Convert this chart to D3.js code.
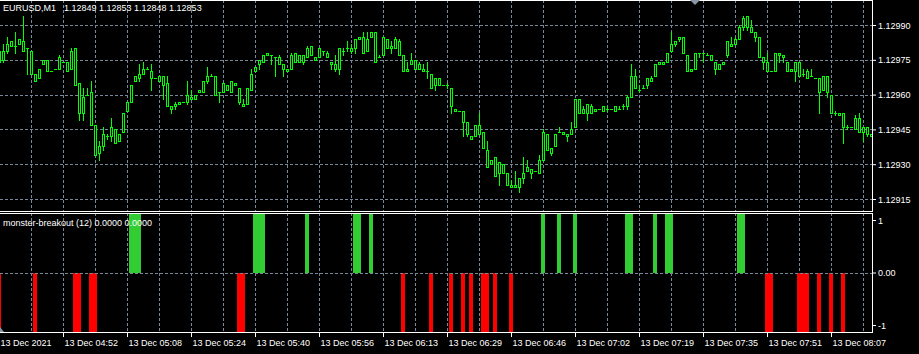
<!DOCTYPE html>
<html><head><meta charset="utf-8">
<script src="https://cdn.jsdelivr.net/npm/d3@7/dist/d3.min.js"></script>
<style>
html,body{margin:0;padding:0;background:#000;overflow:hidden}
svg{display:block}
text{font-family:"Liberation Sans",Arial,sans-serif;font-size:9px;fill:#fff}
</style></head><body>
<svg id="c" width="919" height="354"></svg>
<script>
// ---- data (EURUSD M1, 219 bars) ----
const opens=[1.12974,1.12975,1.12979,1.12981,1.12981,1.12982,1.12983,1.12980,1.12979,1.12969,1.12967,1.12973,1.12975,1.12970,1.12971,1.12971,1.12974,1.12974,1.12971,1.12980,
1.12965,1.12952,1.12960,1.12961,1.12947,1.12935,1.12938,1.12942,1.12942,1.12945,1.12940,1.12944,1.12953,1.12957,1.12966,1.12967,1.12969,1.12971,1.12970,1.12967,
1.12966,1.12968,1.12965,1.12955,1.12955,1.12956,1.12957,1.12957,1.12959,1.12958,1.12961,1.12961,1.12966,1.12968,1.12968,1.12961,1.12961,1.12964,1.12961,1.12965,
1.12963,1.12956,1.12956,1.12962,1.12970,1.12973,1.12974,1.12977,1.12977,1.12976,1.12976,1.12973,1.12971,1.12971,1.12974,1.12977,1.12974,1.12976,1.12981,1.12976,
1.12976,1.12979,1.12978,1.12974,1.12973,1.12971,1.12979,1.12980,1.12980,1.12980,1.12984,1.12985,1.12979,1.12985,1.12987,1.12976,1.12977,1.12984,1.12980,1.12980,
1.12983,1.12977,1.12970,1.12973,1.12975,1.12971,1.12971,1.12970,1.12969,1.12964,1.12967,1.12964,1.12964,1.12963,1.12954,1.12953,1.12953,1.12948,1.12942,1.12942,
1.12947,1.12944,1.12936,1.12930,1.12933,1.12926,1.12930,1.12926,1.12920,1.12921,1.12920,1.12924,1.12927,1.12928,1.12927,1.12926,1.12932,1.12943,1.12937,1.12938,
1.12944,1.12944,1.12943,1.12943,1.12946,1.12958,1.12952,1.12952,1.12955,1.12953,1.12954,1.12955,1.12954,1.12954,1.12953,1.12954,1.12955,1.12955,1.12959,1.12968,
1.12962,1.12963,1.12964,1.12966,1.12968,1.12973,1.12974,1.12974,1.12979,1.12982,1.12984,1.12985,1.12977,1.12970,1.12971,1.12978,1.12978,1.12977,1.12977,1.12974,
1.12971,1.12973,1.12977,1.12982,1.12982,1.12984,1.12989,1.12994,1.12989,1.12987,1.12985,1.12976,1.12974,1.12970,1.12970,1.12978,1.12977,1.12974,1.12970,1.12970,
1.12974,1.12969,1.12970,1.12968,1.12967,1.12967,1.12962,1.12968,1.12960,1.12952,1.12952,1.12952,1.12946,1.12946,1.12945,1.12950,1.12944,1.12946,1.12943];
const highs=[1.12982,1.12982,1.12985,1.12983,1.12987,1.12984,1.12994,1.12980,1.12979,1.12969,1.12971,1.12975,1.12975,1.12970,1.12971,1.12977,1.12974,1.12974,1.12980,1.12980,
1.12965,1.12963,1.12963,1.12966,1.12947,1.12940,1.12946,1.12943,1.12950,1.12945,1.12943,1.12952,1.12957,1.12964,1.12968,1.12973,1.12974,1.12972,1.12973,1.12967,
1.12968,1.12968,1.12968,1.12955,1.12957,1.12957,1.12957,1.12966,1.12962,1.12960,1.12962,1.12966,1.12972,1.12969,1.12968,1.12961,1.12965,1.12964,1.12966,1.12965,
1.12963,1.12958,1.12963,1.12971,1.12972,1.12975,1.12977,1.12978,1.12977,1.12976,1.12977,1.12973,1.12971,1.12978,1.12978,1.12977,1.12977,1.12981,1.12981,1.12976,
1.12980,1.12979,1.12979,1.12974,1.12977,1.12980,1.12980,1.12983,1.12982,1.12984,1.12985,1.12987,1.12987,1.12987,1.12987,1.12977,1.12985,1.12984,1.12983,1.12985,
1.12984,1.12977,1.12974,1.12978,1.12975,1.12974,1.12973,1.12974,1.12969,1.12967,1.12967,1.12964,1.12965,1.12963,1.12954,1.12953,1.12953,1.12948,1.12942,1.12947,
1.12952,1.12944,1.12940,1.12932,1.12933,1.12931,1.12930,1.12926,1.12923,1.12927,1.12924,1.12933,1.12932,1.12928,1.12927,1.12934,1.12945,1.12943,1.12937,1.12943,
1.12946,1.12944,1.12943,1.12948,1.12958,1.12958,1.12955,1.12956,1.12956,1.12954,1.12954,1.12955,1.12955,1.12954,1.12955,1.12955,1.12956,1.12960,1.12973,1.12971,
1.12964,1.12964,1.12967,1.12968,1.12973,1.12974,1.12974,1.12978,1.12987,1.12983,1.12985,1.12985,1.12977,1.12971,1.12978,1.12978,1.12978,1.12978,1.12977,1.12974,
1.12973,1.12974,1.12983,1.12985,1.12985,1.12990,1.12994,1.12994,1.12992,1.12987,1.12985,1.12976,1.12978,1.12970,1.12978,1.12978,1.12977,1.12974,1.12971,1.12974,
1.12974,1.12971,1.12971,1.12971,1.12967,1.12967,1.12968,1.12968,1.12960,1.12953,1.12952,1.12952,1.12947,1.12946,1.12951,1.12952,1.12946,1.12946,1.12943];
const lows=[1.12971,1.12974,1.12978,1.12981,1.12978,1.12982,1.12979,1.12969,1.12969,1.12966,1.12967,1.12973,1.12970,1.12970,1.12971,1.12971,1.12974,1.12970,1.12971,1.12964,
1.12949,1.12949,1.12960,1.12947,1.12934,1.12932,1.12936,1.12941,1.12940,1.12939,1.12940,1.12944,1.12953,1.12957,1.12966,1.12966,1.12969,1.12971,1.12962,1.12967,
1.12966,1.12958,1.12955,1.12952,1.12954,1.12956,1.12957,1.12956,1.12958,1.12958,1.12961,1.12961,1.12965,1.12968,1.12960,1.12957,1.12961,1.12962,1.12961,1.12964,
1.12956,1.12955,1.12956,1.12962,1.12970,1.12971,1.12974,1.12977,1.12973,1.12968,1.12973,1.12968,1.12970,1.12971,1.12974,1.12974,1.12973,1.12976,1.12977,1.12975,
1.12976,1.12977,1.12976,1.12971,1.12970,1.12969,1.12977,1.12979,1.12978,1.12978,1.12984,1.12978,1.12979,1.12985,1.12974,1.12976,1.12977,1.12980,1.12978,1.12980,
1.12977,1.12970,1.12970,1.12973,1.12971,1.12971,1.12970,1.12967,1.12963,1.12962,1.12964,1.12964,1.12963,1.12952,1.12953,1.12953,1.12942,1.12942,1.12941,1.12942,
1.12943,1.12937,1.12929,1.12930,1.12925,1.12921,1.12926,1.12921,1.12920,1.12920,1.12918,1.12922,1.12927,1.12924,1.12927,1.12926,1.12932,1.12936,1.12934,1.12938,
1.12944,1.12943,1.12940,1.12943,1.12946,1.12952,1.12952,1.12949,1.12952,1.12953,1.12954,1.12953,1.12953,1.12954,1.12953,1.12954,1.12954,1.12954,1.12959,1.12963,
1.12961,1.12963,1.12963,1.12966,1.12968,1.12973,1.12973,1.12974,1.12979,1.12981,1.12983,1.12978,1.12970,1.12970,1.12971,1.12976,1.12974,1.12977,1.12975,1.12969,
1.12971,1.12973,1.12976,1.12981,1.12982,1.12984,1.12988,1.12988,1.12987,1.12983,1.12976,1.12971,1.12970,1.12970,1.12970,1.12974,1.12974,1.12970,1.12970,1.12966,
1.12968,1.12968,1.12967,1.12968,1.12967,1.12952,1.12962,1.12959,1.12952,1.12951,1.12951,1.12939,1.12945,1.12946,1.12945,1.12944,1.12940,1.12942,1.12942];
const closes=[1.12979,1.12979,1.12982,1.12983,1.12981,1.12984,1.12979,1.12980,1.12969,1.12966,1.12971,1.12975,1.12970,1.12970,1.12971,1.12976,1.12974,1.12970,1.12979,1.12964,
1.12952,1.12959,1.12960,1.12947,1.12934,1.12938,1.12943,1.12942,1.12946,1.12939,1.12943,1.12952,1.12957,1.12964,1.12968,1.12969,1.12971,1.12971,1.12967,1.12967,
1.12968,1.12964,1.12955,1.12954,1.12956,1.12957,1.12957,1.12960,1.12958,1.12960,1.12962,1.12966,1.12968,1.12968,1.12960,1.12961,1.12965,1.12962,1.12966,1.12964,
1.12957,1.12955,1.12963,1.12969,1.12972,1.12975,1.12977,1.12978,1.12977,1.12976,1.12973,1.12971,1.12970,1.12977,1.12978,1.12974,1.12977,1.12980,1.12977,1.12975,
1.12980,1.12979,1.12976,1.12973,1.12971,1.12980,1.12979,1.12980,1.12979,1.12984,1.12985,1.12978,1.12984,1.12987,1.12974,1.12976,1.12985,1.12980,1.12981,1.12984,
1.12977,1.12970,1.12971,1.12975,1.12971,1.12973,1.12970,1.12970,1.12963,1.12967,1.12964,1.12964,1.12964,1.12955,1.12953,1.12953,1.12948,1.12943,1.12941,1.12947,
1.12943,1.12937,1.12929,1.12932,1.12925,1.12931,1.12926,1.12921,1.12921,1.12920,1.12924,1.12926,1.12929,1.12926,1.12927,1.12932,1.12944,1.12936,1.12935,1.12943,
1.12944,1.12943,1.12942,1.12945,1.12958,1.12952,1.12954,1.12956,1.12952,1.12954,1.12954,1.12953,1.12954,1.12954,1.12955,1.12954,1.12955,1.12959,1.12968,1.12963,
1.12962,1.12963,1.12967,1.12967,1.12973,1.12974,1.12973,1.12978,1.12982,1.12983,1.12985,1.12978,1.12970,1.12971,1.12978,1.12978,1.12978,1.12977,1.12975,1.12971,
1.12973,1.12974,1.12983,1.12981,1.12984,1.12989,1.12993,1.12989,1.12987,1.12985,1.12976,1.12974,1.12970,1.12970,1.12978,1.12977,1.12976,1.12970,1.12971,1.12974,
1.12968,1.12969,1.12967,1.12968,1.12967,1.12961,1.12968,1.12961,1.12952,1.12952,1.12951,1.12946,1.12946,1.12946,1.12950,1.12944,1.12946,1.12943,1.12942];

// indicator: bars where the buffers are +1 (breakout up) and -1 (breakout down)
const upBars=[33,34,35,64,65,66,77,89,90,93,136,140,144,157,158,164,167,168,185,186];
const downBars=[0,9,19,20,23,24,60,61,101,108,113,116,118,121,122,124,128,192,193,200,201,202,205,208,211];

const priceTicks=[1.12915,1.12930,1.12945,1.12960,1.12975,1.12990];
const indTicks=[1,0,-1];
const indTickLabels=["1","0.00","-1"];
const timeTickBars=[0,16,32,48,64,80,96,112,128,144,160,176,192,208];
const timeTickLabels=["13 Dec 2021","13 Dec 04:52","13 Dec 05:08","13 Dec 05:24","13 Dec 05:40","13 Dec 05:56","13 Dec 06:13","13 Dec 06:29","13 Dec 06:46","13 Dec 07:02","13 Dec 07:19","13 Dec 07:35","13 Dec 07:51","13 Dec 08:07"];
const symbolTitle="EURUSD,M1";
const titleValues="1.12849 1.12853 1.12848 1.12853";
const indTitle="monster-breakout (12) 0.0000 0.0000";

// ---- layout ----
const plotRight=872, mainTop=0, mainBottom=211, indTop=213, indBottom=332;
const GRID="#778899", CANDLE="#00ff00", UP="#32cd32", DOWN="#ff0000";
const n=closes.length;
const svg=d3.select("#c");
svg.append("rect").attr("width",919).attr("height",354).attr("fill","#000");

const x=d3.scaleLinear().domain([0,n-1]).range([-1,4*(n-1)-1]);
const y=d3.scaleLinear().domain([1.12915,1.12990]).range([199,25]);
const yi=d3.scaleLinear().domain([-1,1]).range([indBottom,indTop+1]);
const yiLabel=d3.scaleLinear().domain([-1,1]).range([325,220]);

const defs=svg.append("defs");
defs.append("clipPath").attr("id","cm").append("rect").attr("x",0).attr("y",mainTop).attr("width",plotRight).attr("height",mainBottom-mainTop);
defs.append("clipPath").attr("id","ci").append("rect").attr("x",0).attr("y",indTop).attr("width",plotRight).attr("height",indBottom-indTop);

// grid
const gridBars=d3.range(8,n,8);
const gm=svg.append("g").attr("clip-path","url(#cm)").attr("shape-rendering","crispEdges");
gm.selectAll("line.v").data(gridBars).join("line")
  .attr("x1",d=>x(d)+0.5).attr("x2",d=>x(d)+0.5).attr("y1",mainTop).attr("y2",mainBottom)
  .attr("stroke",GRID).attr("stroke-dasharray","3,2");
gm.selectAll("line.h").data(priceTicks).join("line")
  .attr("x1",0).attr("x2",plotRight).attr("y1",d=>Math.round(y(d))+0.5).attr("y2",d=>Math.round(y(d))+0.5)
  .attr("stroke",GRID).attr("stroke-dasharray","3,2");
const gi=svg.append("g").attr("clip-path","url(#ci)").attr("shape-rendering","crispEdges");
gi.selectAll("line.v").data(gridBars).join("line")
  .attr("x1",d=>x(d)+0.5).attr("x2",d=>x(d)+0.5).attr("y1",indTop).attr("y2",indBottom)
  .attr("stroke",GRID).attr("stroke-dasharray","3,2");

// indicator histogram
const upBuf=d3.range(n).map(i=>upBars.includes(i)?1:0);
const dnBuf=d3.range(n).map(i=>downBars.includes(i)?-1:0);
gi.selectAll("rect.up").data(d3.range(n).filter(i=>upBuf[i]!==0)).join("rect")
  .attr("x",i=>x(i)-2).attr("width",4)
  .attr("y",i=>yi(upBuf[i])).attr("height",i=>yi(0)-yi(upBuf[i])).attr("fill",UP);
gi.selectAll("rect.dn").data(d3.range(n).filter(i=>dnBuf[i]!==0)).join("rect")
  .attr("x",i=>x(i)-2).attr("width",4)
  .attr("y",yi(0)).attr("height",i=>yi(dnBuf[i])-yi(0)).attr("fill",DOWN);
gi.append("line").attr("x1",0).attr("x2",plotRight).attr("y1",Math.round(yi(0))+0.5).attr("y2",Math.round(yi(0))+0.5)
  .attr("stroke",GRID).attr("stroke-dasharray","3,2");

// candles
const gc=svg.append("g").attr("clip-path","url(#cm)").attr("shape-rendering","crispEdges");
const bars=d3.range(n);
gc.selectAll("line.w").data(bars).join("line")
  .attr("x1",i=>x(i)+0.5).attr("x2",i=>x(i)+0.5)
  .attr("y1",i=>Math.round(y(highs[i]))).attr("y2",i=>Math.round(y(lows[i]))+1)
  .attr("stroke",CANDLE);
gc.selectAll("rect.b").data(bars).join("rect")
  .each(function(i){
    const t=Math.round(y(Math.max(opens[i],closes[i]))), b=Math.round(y(Math.min(opens[i],closes[i])));
    const s=d3.select(this);
    if(b-t<1){ s.attr("x",x(i)-1).attr("y",t).attr("width",3).attr("height",1).attr("fill",CANDLE); }
    else { s.attr("x",x(i)-0.5).attr("y",t+0.5).attr("width",2).attr("height",b-t).attr("fill","#000").attr("stroke",CANDLE); }
  });

// frames
const fr=svg.append("g").attr("stroke","#fff").attr("shape-rendering","crispEdges");
fr.append("line").attr("x1",0).attr("x2",plotRight+1).attr("y1",mainTop+0.5).attr("y2",mainTop+0.5);
fr.append("line").attr("x1",0).attr("x2",plotRight+1).attr("y1",mainBottom+0.5).attr("y2",mainBottom+0.5);
fr.append("line").attr("x1",0).attr("x2",plotRight+1).attr("y1",indTop+0.5).attr("y2",indTop+0.5);
fr.append("line").attr("x1",0).attr("x2",plotRight+1).attr("y1",indBottom+0.5).attr("y2",indBottom+0.5);
fr.append("line").attr("x1",plotRight+0.5).attr("x2",plotRight+0.5).attr("y1",mainTop).attr("y2",mainBottom+1);
fr.append("line").attr("x1",plotRight+0.5).attr("x2",plotRight+0.5).attr("y1",indTop).attr("y2",indBottom+1);

// price axis
const pa=svg.append("g").attr("transform",`translate(${plotRight},0)`).style("color","#fff")
  .call(d3.axisRight(y).tickValues(priceTicks).tickFormat(d3.format(".5f")).tickSize(4).tickPadding(2));
pa.select(".domain").remove();
pa.selectAll("text").attr("dy","0.35em");

// indicator axis
const ia=svg.append("g").attr("transform",`translate(${plotRight},0)`).style("color","#fff")
  .call(d3.axisRight(yiLabel).tickValues(indTicks).tickFormat((d,k)=>indTickLabels[k]).tickSize(4).tickPadding(2));
ia.select(".domain").remove();
ia.selectAll("text").attr("dy","0.35em");

// time axis
const ta=svg.append("g").attr("transform",`translate(0,${indBottom})`).style("color","#fff")
  .call(d3.axisBottom(x).tickValues(timeTickBars).tickFormat((d,k)=>timeTickLabels[k]).tickSize(5).tickPadding(3));
ta.select(".domain").remove();
ta.selectAll("text").attr("text-anchor","start").attr("x",1);
ta.selectAll(".tick").filter(d=>d===0).select("line").remove();

// titles
svg.append("text").attr("x",3).attr("y",11).text(symbolTitle);
svg.append("text").attr("x",64).attr("y",11).text(titleValues);
svg.append("text").attr("x",3).attr("y",226).text(indTitle);

// markers
svg.append("path").attr("d","M690,0L700,0L695,5Z").attr("fill","#8a96a6");
svg.append("path").attr("d","M0,327L0,332L4,332Z").attr("fill","#8a96a6");
</script>
</body></html>
